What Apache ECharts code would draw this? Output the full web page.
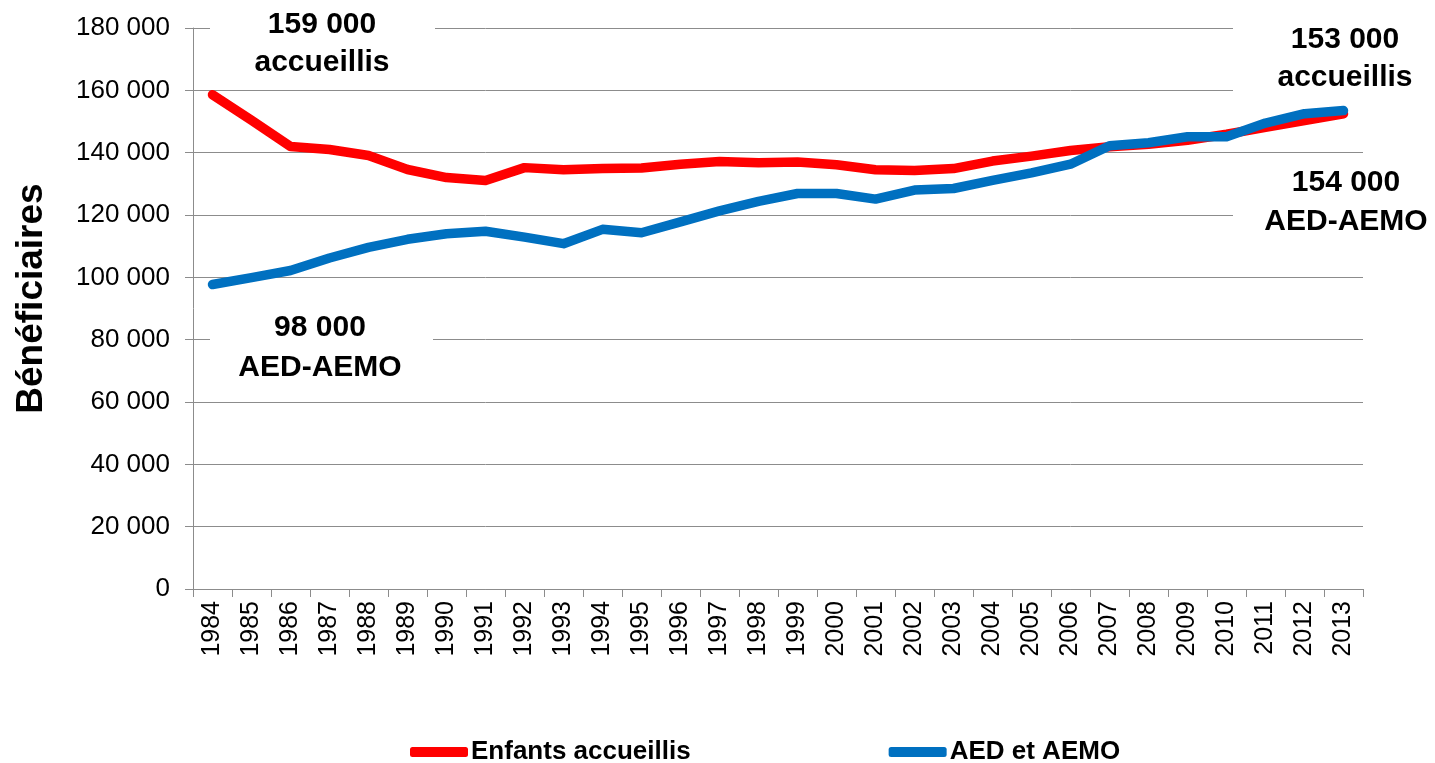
<!DOCTYPE html>
<html>
<head>
<meta charset="utf-8">
<script src="https://cdn.jsdelivr.net/npm/echarts@6/dist/echarts.min.js"></script>
<style>html,body{margin:0;padding:0;background:#fff}#c{width:1435px;height:763px}</style>
</head>
<body>
<div id="c"></div>
<script>
var years = ['1984','1985','1986','1987','1988','1989','1990','1991','1992','1993','1994','1995','1996','1997','1998','1999','2000','2001','2002','2003','2004','2005','2006','2007','2008','2009','2010','2011','2012','2013'];
var enfantsAccueillis = [158600,150400,142000,141000,139100,134600,132000,131100,135200,134500,134900,135100,136300,137200,136800,137000,136100,134500,134300,134900,137300,138900,140700,141900,142700,144000,145900,148100,150300,152500];
var aedAemo = [97700,99900,102200,106200,109600,112200,114000,114800,112900,110800,115400,114300,117800,121300,124400,126900,126900,125100,128000,128500,131100,133500,136300,142200,143200,145100,145100,149500,152500,153500];
var yTicks = {min: 0, max: 180000, interval: 20000};
var seriesNames = ['Enfants accueillis', 'AED et AEMO'];
var annotations = [
  ['159 000', 'accueillis'],
  ['98 000', 'AED-AEMO'],
  ['153 000', 'accueillis'],
  ['154 000', 'AED-AEMO']
];

function fmt(v){ return String(v).replace(/\B(?=(\d{3})+(?!\d))/g, ' '); }
var FONT = 'Liberation Sans, Arial, sans-serif';
var grey = '#8c8c8c';

function box(x, y, w, h, lines, cx, cy1, cy2){
  return [
    {type: 'rect', z: 1, shape: {x: x, y: y, width: w, height: h}, style: {fill: '#fff'}},
    {type: 'text', z: 101, x: cx, y: cy1, style: {text: lines[0], font: 'bold 30px ' + FONT, fill: '#000', align: 'center', verticalAlign: 'middle'}},
    {type: 'text', z: 101, x: cx, y: cy2, style: {text: lines[1], font: 'bold 30px ' + FONT, fill: '#000', align: 'center', verticalAlign: 'middle'}}
  ];
}

var chart = echarts.init(document.getElementById('c'), null, {renderer: 'canvas'});
chart.setOption({
  animation: false,
  backgroundColor: '#fff',
  grid: {left: 193, right: 72, top: 28, bottom: 174, containLabel: false, outerBoundsMode: 'none'},
  xAxis: {
    type: 'category', data: years, boundaryGap: true,
    axisLine: {lineStyle: {color: grey, width: 1}},
    axisTick: {show: true, length: 8, lineStyle: {color: grey}, alignWithLabel: false},
    axisLabel: {rotate: 90, interval: 0, margin: 12, color: '#000', fontSize: 25, fontFamily: FONT}
  },
  yAxis: {
    type: 'value', min: yTicks.min, max: yTicks.max, interval: yTicks.interval,
    name: 'Bénéficiaires', nameLocation: 'middle', nameRotate: 90, nameGap: 143,
    nameTextStyle: {fontSize: 37, fontWeight: 'bold', color: '#000', fontFamily: FONT, padding: [0, 0, 0, 20]},
    axisLine: {show: true, lineStyle: {color: grey, width: 1}},
    axisTick: {show: true, length: 8, lineStyle: {color: grey}},
    axisLabel: {margin: 23, color: '#000', fontSize: 26, fontFamily: FONT, formatter: fmt},
    splitLine: {show: true, lineStyle: {color: grey, width: 1}}
  },
  legend: {
    left: 405, top: 734, itemWidth: 58, itemHeight: 10, itemGap: 198,
    icon: 'roundRect',
    textStyle: {fontSize: 26, fontWeight: 'bold', color: '#000', fontFamily: FONT, padding: [0,0,0,-2]},
    data: seriesNames
  },
  series: [
    {name: seriesNames[0], type: 'line', data: enfantsAccueillis, showSymbol: false, symbol: 'none',
     lineStyle: {color: '#ff0000', width: 9.5, cap: 'round', join: 'round'}, itemStyle: {color: '#ff0000'}, z: 2},
    {name: seriesNames[1], type: 'line', data: aedAemo, showSymbol: false, symbol: 'none',
     lineStyle: {color: '#0070c0', width: 9.5, cap: 'round', join: 'round'}, itemStyle: {color: '#0070c0'}, z: 3}
  ],
  graphic: [].concat(
    box(210, 0, 225, 84, annotations[0], 322, 25, 63),
    box(210, 305, 223, 80, annotations[1], 320, 328, 368),
    box(1233, 4, 202, 114, annotations[2], 1345, 40, 78),
    box(1233, 162, 202, 82, annotations[3], 1346, 183, 222)
  )
});
</script>
</body>
</html>
